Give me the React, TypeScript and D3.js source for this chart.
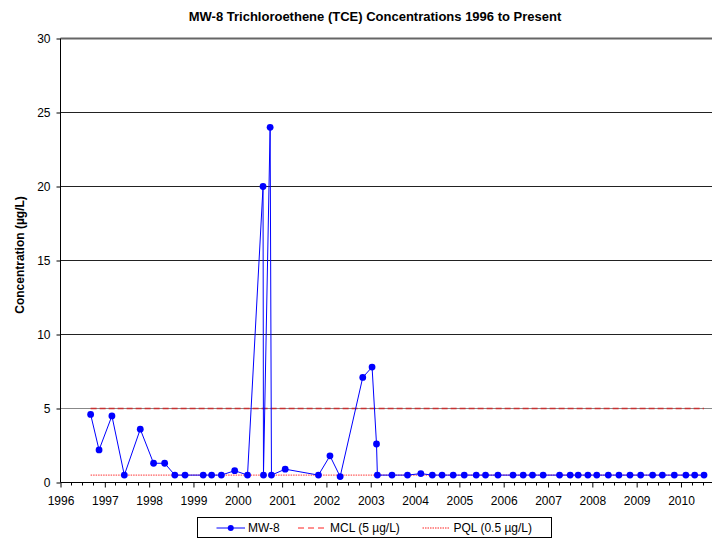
import { useEffect, useRef } from "react";
import * as d3 from "d3";

// Fechas de muestreo (año decimal) y concentraciones de TCE en MW-8 (µg/L)
const sampleDates = [
  1996.68, 1996.87, 1997.16, 1997.44, 1997.8, 1998.1, 1998.35, 1998.58, 1998.81,
  1999.22, 1999.41, 1999.63, 1999.93, 2000.22, 2000.57, 2000.58, 2000.73, 2000.76,
  2001.07, 2001.82, 2002.08, 2002.31, 2002.82, 2003.03, 2003.13, 2003.15, 2003.48,
  2003.83, 2004.13, 2004.39, 2004.61, 2004.86, 2005.11, 2005.38, 2005.59, 2005.87,
  2006.21, 2006.44, 2006.65, 2006.89, 2007.26, 2007.5, 2007.68, 2007.9, 2008.1,
  2008.36, 2008.6, 2008.85, 2009.09, 2009.36, 2009.58, 2009.85, 2010.11, 2010.31,
  2010.52,
];
const tceValues = [
  4.6, 2.2, 4.5, 0.5, 3.6, 1.3, 1.3, 0.5, 0.5,
  0.5, 0.5, 0.5, 0.8, 0.5, 20, 0.5, 24, 0.5,
  0.9, 0.5, 1.8, 0.4, 7.1, 7.8, 2.6, 0.5, 0.5,
  0.5, 0.6, 0.5, 0.5, 0.5, 0.5, 0.5, 0.5, 0.5,
  0.5, 0.5, 0.5, 0.5, 0.5, 0.5, 0.5, 0.5, 0.5,
  0.5, 0.5, 0.5, 0.5, 0.5, 0.5, 0.5, 0.5, 0.5,
  0.5,
];

const MCL = 5;
const PQL = 0.5;
const yearTicks = d3.range(1996, 2011);
const yTicks = [0, 5, 10, 15, 20, 25, 30];
const xDomain = [1996, 2010.7];
const yDomain = [0, 30];

const seriesNames = ["MW-8", "MCL (5 µg/L)", "PQL (0.5 µg/L)"];

const W = 713;
const H = 540;
const FONT = "Arial, 'Liberation Sans', sans-serif";

const App = () => {
  const ref = useRef<SVGSVGElement | null>(null);

  useEffect(() => {
    if (!ref.current) return;
    const svg = d3.select(ref.current);
    svg.selectAll("*").remove();

    const margin = { top: 38.5, left: 60.5, right: 1, bottom: 57.5 };
    const plotW = W - margin.left - margin.right;
    const plotH = H - margin.top - margin.bottom;

    const x = d3.scaleLinear().domain(xDomain).range([0, plotW]);
    const y = d3.scaleLinear().domain(yDomain).range([plotH, 0]);

    const g = svg
      .append("g")
      .attr("transform", `translate(${margin.left},${margin.top})`);

    // Título
    svg
      .append("text")
      .attr("x", 375)
      .attr("y", 20.5)
      .attr("text-anchor", "middle")
      .style("font-family", FONT)
      .style("font-size", "13px")
      .style("font-weight", "bold")
      .text("MW-8 Trichloroethene (TCE) Concentrations 1996 to Present");

    // Rejilla horizontal
    g.selectAll(".grid")
      .data(yTicks.filter((t) => t > 0))
      .enter()
      .append("line")
      .attr("x1", 0)
      .attr("x2", plotW)
      .attr("y1", (d) => Math.round(y(d)))
      .attr("y2", (d) => Math.round(y(d)))
      .attr("stroke", (d) => (d === 30 ? "#666" : d === 5 ? "#888" : "#222"))
      .attr("stroke-width", (d) => (d === 30 ? 2 : 1));

    // Eje Y
    const yAxis = g
      .append("g")
      .call(d3.axisLeft(y).tickValues(yTicks).tickSize(4).tickPadding(6));
    yAxis.select(".domain").attr("stroke", "#000").attr("d", `M0,0V${plotH}`);
    yAxis.selectAll("line").attr("stroke", "#000");
    yAxis
      .selectAll("text")
      .style("font-family", FONT)
      .style("font-size", "12px")
      .attr("fill", "#000");

    // Eje X con marcas anuales y trimestrales
    const minorTicks = d3
      .range(1996, 2010.7, 0.25)
      .filter((t) => Math.abs(t - Math.round(t)) > 0.01);
    const xAxisG = g.append("g").attr("transform", `translate(0,${plotH})`);
    xAxisG
      .selectAll(".minor")
      .data(minorTicks)
      .enter()
      .append("line")
      .attr("x1", (d) => Math.round(x(d)))
      .attr("x2", (d) => Math.round(x(d)))
      .attr("y1", 0)
      .attr("y2", 3)
      .attr("stroke", "#000");
    const xAxis = xAxisG.call(
      d3
        .axisBottom(x)
        .tickValues(yearTicks)
        .tickFormat(d3.format("d"))
        .tickSize(5)
        .tickPadding(9)
    );
    xAxis.select(".domain").attr("stroke", "#000").attr("d", `M0,0H${plotW}`);
    xAxis.selectAll(".tick line").attr("stroke", "#000");
    xAxis
      .selectAll("text")
      .style("font-family", FONT)
      .style("font-size", "12px")
      .attr("fill", "#000");

    // Título eje Y
    svg
      .append("text")
      .attr("transform", `translate(20,255) rotate(-90)`)
      .attr("text-anchor", "middle")
      .attr("dominant-baseline", "central")
      .style("font-family", FONT)
      .style("font-size", "12px")
      .style("font-weight", "bold")
      .text("Concentration (µg/L)");

    const first = d3.min(sampleDates) as number;
    const last = d3.max(sampleDates) as number;

    // Línea MCL
    g.append("line")
      .attr("x1", x(first))
      .attr("x2", x(last))
      .attr("y1", Math.round(y(MCL)))
      .attr("y2", Math.round(y(MCL)))
      .attr("stroke", "#c83232")
      .attr("stroke-width", 1.5)
      .attr("stroke-dasharray", "6,3");

    // Línea PQL
    g.append("line")
      .attr("x1", x(first))
      .attr("x2", x(last))
      .attr("y1", y(PQL))
      .attr("y2", y(PQL))
      .attr("stroke", "#ff3030")
      .attr("stroke-width", 1)
      .attr("stroke-dasharray", "1.5,1");

    // Serie MW-8
    const pts = sampleDates.map((d, i) => [d, tceValues[i]] as [number, number]);
    const line = d3
      .line<[number, number]>()
      .x((d) => x(d[0]))
      .y((d) => y(d[1]));
    g.append("path")
      .datum(pts)
      .attr("fill", "none")
      .attr("stroke", "#0000ff")
      .attr("stroke-width", 1)
      .attr("d", line);
    g.selectAll(".punto")
      .data(pts)
      .enter()
      .append("circle")
      .attr("cx", (d) => x(d[0]))
      .attr("cy", (d) => y(d[1]))
      .attr("r", 3.4)
      .attr("fill", "#0000ff");

    // Leyenda
    const lg = svg.append("g");
    lg.append("rect")
      .attr("x", 197.5)
      .attr("y", 517.5)
      .attr("width", 354)
      .attr("height", 20)
      .attr("fill", "#fff")
      .attr("stroke", "#000");
    const ly = 528;
    const items = [
      { x1: 216.5, x2: 245, tx: 248, dash: null, color: "#0000ff", marker: true },
      { x1: 298, x2: 324, tx: 330, dash: "6,4", color: "#ff2020", marker: false },
      { x1: 422.5, x2: 450, tx: 453.5, dash: "1.5,1", color: "#ff2020", marker: false },
    ];
    items.forEach((it, i) => {
      lg.append("line")
        .attr("x1", it.x1)
        .attr("x2", it.x2)
        .attr("y1", ly)
        .attr("y2", ly)
        .attr("stroke", it.color)
        .attr("stroke-width", 1)
        .attr("stroke-dasharray", it.dash);
      if (it.marker) {
        lg.append("circle")
          .attr("cx", (it.x1 + it.x2) / 2)
          .attr("cy", ly)
          .attr("r", 3)
          .attr("fill", it.color);
      }
      lg.append("text")
        .attr("x", it.tx)
        .attr("y", ly)
        .attr("dominant-baseline", "central")
        .style("font-family", FONT)
        .style("font-size", "12px")
        .text(seriesNames[i]);
    });
  }, []);

  return (
    <svg
      ref={ref}
      width={W}
      height={H}
      style={{ position: "absolute", left: 0, top: 0, background: "#fff" }}
    />
  );
};

export default App;
